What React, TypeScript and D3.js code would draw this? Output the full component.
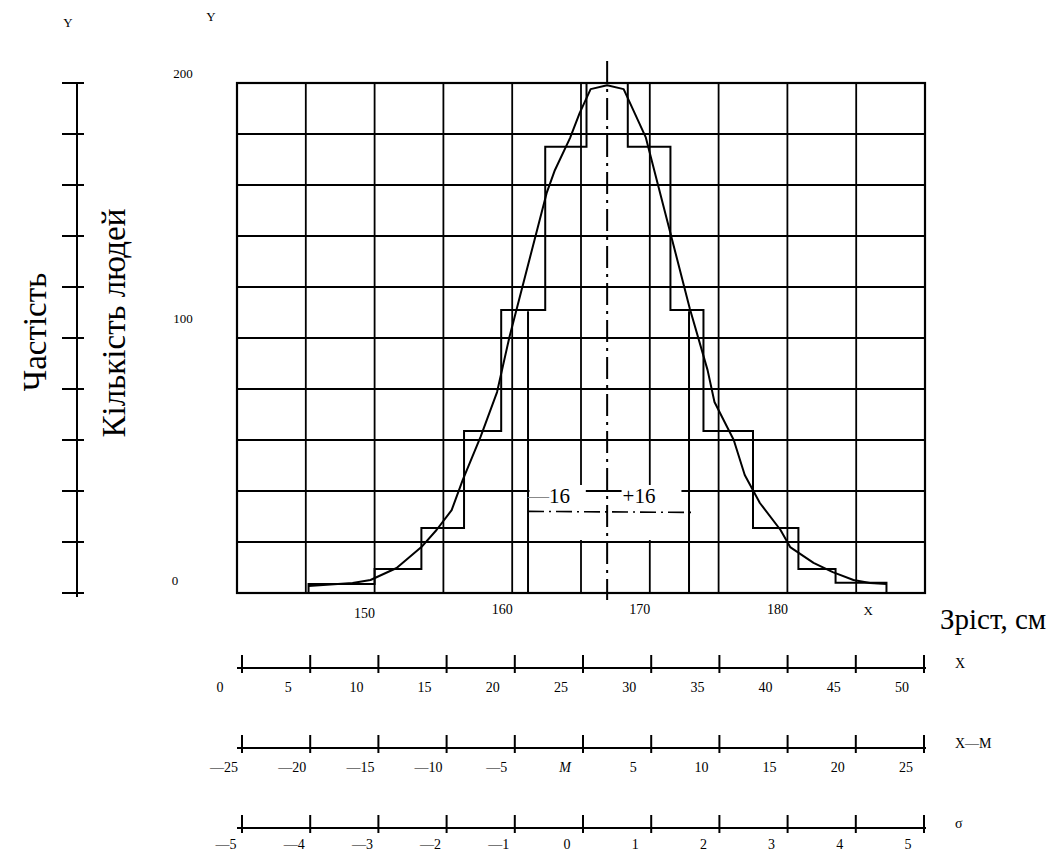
import React from 'react';
import * as d3 from 'd3';

// ---------- data ----------
const gridX = [140, 145, 150, 155, 160, 165, 170, 175, 180, 185, 190];
const gridY = [0, 20, 40, 60, 80, 100, 120, 140, 160, 180, 200];
const heightLabels = [150, 160, 170, 180];
const countLabels = [0, 100, 200];

const binEdges = [145.2, 150.0, 153.4, 156.5, 159.2, 162.4, 165.4, 168.4, 171.5, 173.9, 177.5, 180.8, 183.5, 187.2];
const binCounts = [3.5, 9.4, 25.5, 63.5, 111, 175, 200, 175, 111, 63.5, 25.5, 9.4, 4];

const curveX = [145.2, 148.4, 149.7, 151.6, 153.4, 154.5, 155.6, 156.4, 157.7, 158.9, 159.8, 162.5, 163.1, 164.2, 164.9, 165.7, 166.9, 168.1, 168.9, 169.7, 171.5, 172.9, 174.2, 174.7, 176.1, 176.9, 178.0, 179.5, 180.2, 181.9, 183.3, 184.8, 186.0, 187.2];
const curveY = [2.7, 3.9, 5.1, 9.8, 18.0, 24.7, 32.5, 44.3, 61.2, 78.8, 100.4, 156.8, 165.8, 178.4, 188.2, 197.6, 199.1, 197.6, 188.2, 178.8, 141.1, 111.7, 87.4, 74.9, 60.0, 46.3, 35.3, 24.7, 18.0, 11.8, 8.2, 5.1, 3.9, 3.5];

const MEAN = 166.9;
const SIGMA_LEFT = 161.15;
const SIGMA_RIGHT = 172.85;
const SIGMA_LEVEL = 32;
const SIGMA_TOP = 110.5;

const rawTicks = [0, 5, 10, 15, 20, 25, 30, 35, 40, 45, 50];
const rawLabels = ['0', '5', '10', '15', '20', '25', '30', '35', '40', '45', '50'];
const devTicks = [-25, -20, -15, -10, -5, 0, 5, 10, 15, 20, 25];
const devLabels = ['—25', '—20', '—15', '—10', '—5', 'M', '5', '10', '15', '20', '25'];
const sigTicks = [-5, -4, -3, -2, -1, 0, 1, 2, 3, 4, 5];
const sigLabels = ['—5', '—4', '—3', '—2', '—1', '0', '1', '2', '3', '4', '5'];

// ---------- layout ----------
const W = 1051, H = 852;
const PL = 237, PR = 925, PT = 83, PB = 593;
const FONT = 'Liberation Serif, Times New Roman, serif';
const TS = { fontFamily: FONT, fill: '#000' } as React.CSSProperties;

export default function App() {
  const x = d3.scaleLinear().domain([140, 190]).range([PL, PR]);
  const y = d3.scaleLinear().domain([0, 200]).range([PB, PT]);

  const stepPts: [number, number][] = [];
  stepPts.push([binEdges[0], 0]);
  binCounts.forEach((c, i) => {
    stepPts.push([binEdges[i], c]);
    stepPts.push([binEdges[i + 1], c]);
  });
  stepPts.push([binEdges[binEdges.length - 1], 0]);
  const line = d3.line<[number, number]>().x(d => x(d[0])).y(d => y(d[1]));
  const histPath = line(stepPts) || '';
  const curvePath = line(curveX.map((v, i) => [v, curveY[i]] as [number, number])) || '';

  const axisRows = [
    { ticks: rawTicks, labels: rawLabels, name: 'X', y: 668, off: -22, dy: 24, italic: -1 },
    { ticks: devTicks, labels: devLabels, name: 'X—M', y: 748, off: -18, dy: 24, italic: 5 },
    { ticks: sigTicks, labels: sigLabels, name: 'σ', y: 828, off: -16, dy: 21, italic: -1 },
  ];

  const sx = x(SIGMA_LEFT), sxr = x(SIGMA_RIGHT), mx = x(MEAN);
  const sy = y(SIGMA_LEVEL);

  return (
    <svg width={W} height={H} style={{ position: 'absolute', left: 0, top: 0, background: '#fff' }}>
      <rect x={0} y={0} width={W} height={H} fill="#fff" />

      {/* Y markers */}
      <text style={TS} x={68} y={27} fontSize={13} textAnchor="middle">Y</text>
      <text style={TS} x={211} y={21} fontSize={13} textAnchor="middle">Y</text>

      {/* left frequency axis */}
      <line x1={77} x2={77} y1={y(200)} y2={y(0) + 4} stroke="#000" strokeWidth={2} />
      {gridY.map(v => (
        <line key={'lt' + v} x1={62} x2={84} y1={y(v)} y2={y(v)} stroke="#000" strokeWidth={2} />
      ))}
      <text style={TS} transform={`translate(46,332) rotate(-90)`} fontSize={33} textAnchor="middle">Частість</text>
      <text style={TS} transform={`translate(125,323) rotate(-90)`} fontSize={33} textAnchor="middle">Кількість людей</text>

      {/* count labels */}
      {countLabels.map(v => (
        <text style={TS} key={'cl' + v} x={v === 0 ? 175 : 183} y={y(v) - (v === 0 ? 8 : v === 100 ? 15 : 5)}
          fontSize={13} textAnchor="middle">{v}</text>
      ))}

      {/* grid */}
      {gridX.map(v => (
        <line key={'gx' + v} x1={x(v)} x2={x(v)} y1={PT} y2={PB} stroke="#000" strokeWidth={1.8} />
      ))}
      {gridY.map(v => (
        <line key={'gy' + v} x1={PL} x2={PR} y1={y(v)} y2={y(v)} stroke="#000" strokeWidth={1.8} />
      ))}
      {/* gaps behind σ labels */}
      <rect x={sx + 1.5} y={485} width={x(165.35) - sx - 1.5} height={55} fill="#fff" />
      <rect x={x(167.95)} y={485} width={x(172.3) - x(167.95)} height={55} fill="#fff" />

      <rect x={PL} y={PT} width={PR - PL} height={PB - PT} fill="none" stroke="#000" strokeWidth={2.2} />

      {/* histogram */}
      <path d={histPath} fill="none" stroke="#000" strokeWidth={2} />

      {/* sigma lines */}
      <line x1={sx} x2={sx} y1={y(SIGMA_TOP)} y2={PB} stroke="#000" strokeWidth={2} />
      <line x1={sxr} x2={sxr} y1={y(SIGMA_TOP)} y2={PB} stroke="#000" strokeWidth={2} />
      <line x1={sx} x2={sxr + 2} y1={sy} y2={sy + 1} stroke="#000" strokeWidth={1.6} strokeDasharray="16 5 2 5" />
      <text style={TS} x={sx} y={503} fontSize={21}>
        <tspan fill="#888">—</tspan>16
      </text>
      <text style={TS} x={x(167.95) + 1} y={503} fontSize={21}>+16</text>

      {/* mean line */}
      <line x1={mx} x2={mx} y1={PT - 22} y2={PB + 7} stroke="#000" strokeWidth={2} strokeDasharray="22 6 3 6" />

      {/* normal curve */}
      <path d={curvePath} fill="none" stroke="#000" strokeWidth={2} strokeLinejoin="round" />

      {/* x labels */}
      {heightLabels.map(v => (
        <text style={TS} key={'hl' + v} x={x(v) - 10} y={v === 150 ? 618 : 614} fontSize={14} textAnchor="middle">{v}</text>
      ))}
      <text style={TS} x={x(185) + 12} y={615} fontSize={13} textAnchor="middle">X</text>
      <text style={TS} x={940} y={629} fontSize={29}>Зріст, см</text>

      {/* bottom axes */}
      {axisRows.map((row, ri) => {
        const s = d3.scaleLinear().domain([row.ticks[0], row.ticks[row.ticks.length - 1]]).range([242, 924]);
        return (
          <g key={'row' + ri}>
            <line x1={237} x2={926} y1={row.y} y2={row.y} stroke="#000" strokeWidth={2} />
            {row.ticks.map(t => (
              <line key={'t' + t} x1={s(t)} x2={s(t)} y1={row.y - 13} y2={row.y + 5} stroke="#000" strokeWidth={2} />
            ))}
            {row.ticks.map((t, i) => (
              <text style={TS} key={'l' + t} x={s(t) + row.off} y={row.y + row.dy} fontSize={14} textAnchor="middle"
                fontStyle={i === row.italic ? 'italic' : 'normal'}>{row.labels[i]}</text>
            ))}
            <text style={TS} x={955} y={row.y} fontSize={14}>{row.name}</text>
          </g>
        );
      })}
    </svg>
  );
}
